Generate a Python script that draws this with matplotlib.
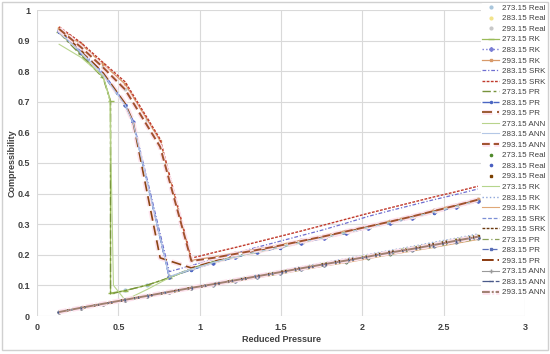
import matplotlib
matplotlib.use("Agg")
import matplotlib.pyplot as plt
import matplotlib.patheffects as pe
from matplotlib.patches import Rectangle

plt.rcParams['font.family'] = ['Liberation Sans', 'DejaVu Sans']

# ---------------- data ----------------
# reduced pressure grid
pr_grid = [0.136, 0.271, 0.407, 0.542, 0.678, 0.813, 0.949, 1.084, 1.220, 1.355,
           1.491, 1.626, 1.762, 1.897, 2.033, 2.168, 2.304, 2.439, 2.575, 2.710]
pr_liq = pr_grid[6:]  # 0.949 ... 2.710

# ---- group A: vapour branch collapsing onto liquid branch ----
# 273.15 K (saturation near Pr 0.452)
x273 = [0.136, 0.271, 0.407, 0.452, 0.452, 0.542, 0.678, 0.813] + pr_liq
# 283.15 K (saturation near Pr 0.59)
x283 = [0.136, 0.271, 0.407, 0.542, 0.590, 0.813] + pr_liq
# 293.15 K (saturation near Pr 0.757)
x293 = [0.136, 0.271, 0.407, 0.542, 0.757] + pr_liq
x293b = [0.136, 0.271, 0.407, 0.542, 0.590, 0.757] + pr_liq
x273ann = [0.136, 0.271, 0.407, 0.448, 0.470, 0.542, 0.678, 0.813] + pr_liq

xA_real_273 = [0.136, 0.271, 0.407, 0.542, 0.678, 0.813] + pr_liq
xA_real_283 = [0.136, 0.271, 0.407, 0.542, 0.813] + pr_liq
xA_real_293 = [0.136, 0.271, 0.407, 0.542, 0.678] + pr_liq
zA_real_273 = [0.930, 0.858, 0.784, 0.084, 0.102, 0.126, 0.156, 0.176, 0.194, 0.210, 0.226, 0.241,
               0.257, 0.273, 0.289, 0.306, 0.323, 0.341, 0.359, 0.378]
zA_real_283 = [0.932, 0.864, 0.792, 0.690, 0.130, 0.158, 0.178, 0.196, 0.212, 0.228, 0.243,
               0.259, 0.275, 0.291, 0.308, 0.325, 0.343, 0.361, 0.380]
zA_real_293 = [0.938, 0.880, 0.815, 0.742, 0.640, 0.182, 0.192, 0.205, 0.218, 0.232, 0.247,
               0.262, 0.278, 0.294, 0.310, 0.327, 0.345, 0.363, 0.382]

zA_rk_273 = [0.928, 0.855, 0.780, 0.704, 0.075, 0.083, 0.101, 0.125, 0.154, 0.175, 0.193, 0.209,
             0.224, 0.240, 0.255, 0.271, 0.288, 0.304, 0.321, 0.339, 0.357, 0.376]
zA_rk_283 = [0.930, 0.862, 0.790, 0.690, 0.635, 0.128, 0.152, 0.174, 0.193, 0.209, 0.224, 0.240,
             0.255, 0.271, 0.288, 0.304, 0.321, 0.339, 0.357, 0.376]
zA_rk_293 = [0.942, 0.888, 0.822, 0.758, 0.572, 0.182, 0.193, 0.206, 0.219, 0.233, 0.248,
             0.263, 0.279, 0.295, 0.311, 0.328, 0.346, 0.364, 0.383]
zA_srk_283 = [0.932, 0.866, 0.795, 0.695, 0.640, 0.145, 0.165, 0.185, 0.205, 0.225, 0.244, 0.263,
              0.282, 0.303, 0.325, 0.344, 0.362, 0.380, 0.397, 0.415]
zA_srk_293 = [0.945, 0.893, 0.828, 0.765, 0.578, 0.189, 0.207, 0.224, 0.242, 0.260, 0.278,
              0.297, 0.316, 0.335, 0.353, 0.371, 0.389, 0.406, 0.424]
zA_pr_273 = [0.926, 0.852, 0.778, 0.700, 0.072, 0.083, 0.101, 0.125, 0.156, 0.177, 0.195, 0.211,
             0.226, 0.242, 0.257, 0.273, 0.290, 0.306, 0.323, 0.341, 0.359, 0.378]
zA_pr_283 = [0.928, 0.860, 0.788, 0.688, 0.633, 0.127, 0.151, 0.173, 0.192, 0.208, 0.223, 0.239,
             0.254, 0.270, 0.287, 0.303, 0.320, 0.338, 0.356, 0.375]
zA_pr_293 = [0.935, 0.868, 0.794, 0.694, 0.636, 0.190, 0.157, 0.178, 0.196, 0.212, 0.227, 0.243,
             0.258, 0.274, 0.291, 0.307, 0.324, 0.342, 0.360, 0.379]
zA_ann_273 = [0.888, 0.845, 0.783, 0.706, 0.100, 0.052, 0.087, 0.125, 0.153, 0.175, 0.193, 0.209,
              0.224, 0.240, 0.256, 0.272, 0.289, 0.305, 0.322, 0.340, 0.358, 0.377]
zA_ann_283 = [0.929, 0.861, 0.789, 0.689, 0.634, 0.129, 0.153, 0.175, 0.194, 0.210, 0.225, 0.241,
              0.256, 0.272, 0.289, 0.305, 0.322, 0.340, 0.358, 0.377]
zA_ann_293 = [0.938, 0.878, 0.812, 0.740, 0.553, 0.180, 0.190, 0.203, 0.216, 0.230, 0.245,
              0.260, 0.276, 0.292, 0.308, 0.325, 0.343, 0.361, 0.380]

# ---- group B: low-compressibility branch ----
zB_real_273 = [0.013, 0.026, 0.039, 0.052, 0.064, 0.077, 0.090, 0.102, 0.115, 0.128,
               0.140, 0.153, 0.166, 0.178, 0.191, 0.204, 0.216, 0.229, 0.242, 0.255]
zB_real_283 = [0.013, 0.026, 0.040, 0.053, 0.065, 0.078, 0.091, 0.103, 0.116, 0.129,
               0.142, 0.155, 0.168, 0.180, 0.193, 0.206, 0.218, 0.231, 0.244, 0.257]
zB_real_293 = [0.013, 0.027, 0.040, 0.053, 0.066, 0.079, 0.092, 0.104, 0.117, 0.131,
               0.143, 0.156, 0.169, 0.182, 0.195, 0.208, 0.220, 0.234, 0.247, 0.260]
zB_rk_273 = [0.014, 0.027, 0.041, 0.054, 0.067, 0.080, 0.094, 0.106, 0.120, 0.133,
             0.146, 0.159, 0.173, 0.185, 0.199, 0.212, 0.225, 0.238, 0.252, 0.265]
zB_rk_283 = [0.014, 0.027, 0.041, 0.054, 0.068, 0.081, 0.095, 0.107, 0.121, 0.134,
             0.147, 0.161, 0.174, 0.187, 0.201, 0.214, 0.227, 0.241, 0.254, 0.268]
zB_rk_293 = [0.013, 0.025, 0.038, 0.051, 0.063, 0.075, 0.088, 0.100, 0.113, 0.125,
             0.137, 0.150, 0.163, 0.174, 0.187, 0.200, 0.212, 0.224, 0.237, 0.250]
zB_srk_283 = [0.013, 0.027, 0.040, 0.053, 0.065, 0.079, 0.092, 0.104, 0.117, 0.131,
              0.143, 0.156, 0.169, 0.182, 0.195, 0.208, 0.220, 0.234, 0.247, 0.261]
zB_srk_293 = [0.014, 0.027, 0.041, 0.054, 0.066, 0.080, 0.093, 0.105, 0.118, 0.132,
              0.145, 0.158, 0.171, 0.184, 0.197, 0.210, 0.223, 0.236, 0.250, 0.263]
zB_pr_273 = [0.013, 0.025, 0.038, 0.051, 0.063, 0.076, 0.089, 0.101, 0.114, 0.126,
             0.138, 0.151, 0.164, 0.176, 0.189, 0.202, 0.214, 0.226, 0.239, 0.252]
zB_pr_283 = [0.013, 0.026, 0.039, 0.052, 0.064, 0.077, 0.090, 0.102, 0.115, 0.128,
             0.141, 0.154, 0.167, 0.179, 0.192, 0.205, 0.217, 0.230, 0.243, 0.256]
zB_pr_293 = [0.013, 0.026, 0.039, 0.052, 0.065, 0.078, 0.091, 0.103, 0.116, 0.129,
             0.142, 0.155, 0.167, 0.180, 0.193, 0.206, 0.218, 0.231, 0.244, 0.258]
zB_ann_273 = [0.013, 0.026, 0.039, 0.052, 0.064, 0.077, 0.090, 0.102, 0.115, 0.128,
              0.140, 0.153, 0.166, 0.178, 0.191, 0.204, 0.216, 0.229, 0.242, 0.255]
zB_ann_283 = [0.013, 0.026, 0.039, 0.052, 0.065, 0.078, 0.090, 0.103, 0.116, 0.129,
              0.141, 0.154, 0.167, 0.179, 0.192, 0.205, 0.217, 0.230, 0.243, 0.256]
zB_ann_293 = [0.013, 0.027, 0.040, 0.053, 0.066, 0.079, 0.092, 0.104, 0.117, 0.130,
              0.143, 0.156, 0.169, 0.181, 0.194, 0.207, 0.219, 0.232, 0.246, 0.259]

x_ticks = [0, 0.5, 1, 1.5, 2, 2.5, 3]
x_ticklabels = ["0", "0.5", "1", "1.5", "2", "2.5", "3"]
y_ticks = [0, 0.1, 0.2, 0.3, 0.4, 0.5, 0.6, 0.7, 0.8, 0.9, 1.0]
y_ticklabels = ["0", "0.1", "0.2", "0.3", "0.4", "0.5", "0.6", "0.7", "0.8", "0.9", "1"]

# ---------------- figure ----------------
fig = plt.figure(figsize=(5.5, 3.54), dpi=100)
fig.patches.append(Rectangle((2 / 550, 4 / 354), 546 / 550, 348 / 354, transform=fig.transFigure,
                             fill=False, edgecolor='#d0d0d0', linewidth=1.0))
ax = fig.add_axes([37 / 550, 1 - 316 / 354, 488 / 550, 306 / 354])

pink = [pe.Stroke(linewidth=3.5, foreground='#fde3ee'), pe.Normal()]

# group A
ax.plot(xA_real_273, zA_real_273, ls='none', marker='o', ms=2, color='#a9c6dc', label='273.15 Real')
ax.plot(xA_real_283, zA_real_283, ls='none', marker='o', ms=2, color='#f2e38a', label='283.15 Real')
ax.plot(xA_real_293, zA_real_293, ls='none', marker='o', ms=2, color='#c8c8c8', label='293.15 Real')
ax.plot(x273, zA_rk_273, ls='-', lw=0.9, color='#9bbb59', marker='_', ms=4, label='273.15 RK')
ax.plot(x283, zA_rk_283, ls=':', lw=1.0, color='#7b7fd6', marker='D', ms=2, label='283.15 RK')
ax.plot(x293, zA_rk_293, ls='-', lw=0.9, color='#d89a6a', marker='s', ms=2, label='293.15 RK')
ax.plot(x283, zA_srk_283, ls=(0, (3, 1.5, 1, 1.5)), lw=0.9, color='#6f6fd0', label='283.15 SRK')
ax.plot(x293, zA_srk_293, ls=(0, (2, 1)), lw=1.0, color='#c0392b', label='293.15 SRK')
ax.plot(x273, zA_pr_273, ls=(0, (6, 2, 2, 2)), lw=1.0, color='#77933c', label='273.15 PR')
ax.plot(x283, zA_pr_283, ls=(0, (6, 2)), lw=1.0, color='#4a66c2', marker='.', ms=3, label='283.15 PR')
ax.plot(x293b, zA_pr_293, ls=(0, (6, 3)), lw=1.2, color='#8b4513', label='293.15 PR',
        path_effects=pink)
ax.plot(x273ann, zA_ann_273, ls='-', lw=0.8, color='#b8d48c', label='273.15 ANN')
ax.plot(x283, zA_ann_283, ls='-', lw=0.8, color='#b4c8e6', label='283.15 ANN')
ax.plot(x293, zA_ann_293, ls=(0, (4, 2)), lw=1.4, color='#a0522d', label='293.15 ANN',
        path_effects=pink)

# group B
ax.plot(pr_grid, zB_real_273, ls='none', marker='o', ms=1.6, color='#4f8a2b', label='273.15 Real')
ax.plot(pr_grid, zB_real_283, ls='none', marker='o', ms=1.6, color='#4a5fc1', label='283.15 Real')
ax.plot(pr_grid, zB_real_293, ls='none', marker='s', ms=1.6, color='#7b3f00', label='293.15 Real')
ax.plot(pr_grid, zB_rk_273, ls='-', lw=0.8, color='#b5d58c', label='273.15 RK')
ax.plot(pr_grid, zB_rk_283, ls=':', lw=1.0, color='#8da5d9', label='283.15 RK')
ax.plot(pr_grid, zB_rk_293, ls='-', lw=0.8, color='#e0a878', label='293.15 RK')
ax.plot(pr_grid, zB_srk_283, ls=(0, (3, 1.5)), lw=0.9, color='#7b8fd6', label='283.15 SRK')
ax.plot(pr_grid, zB_srk_293, ls=(0, (2, 1)), lw=1.0, color='#6b3a10', label='293.15 SRK')
ax.plot(pr_grid, zB_pr_273, ls=(0, (5, 2, 1, 2)), lw=0.9, color='#8aa05a', label='273.15 PR')
ax.plot(pr_grid, zB_pr_283, ls=(0, (5, 2)), lw=0.9, color='#5a6fb8', marker='s', ms=1.8,
        label='283.15 PR')
ax.plot(pr_grid, zB_pr_293, ls=(0, (6, 2)), lw=1.4, color='#8b3a0f', label='293.15 PR')
ax.plot(pr_grid, zB_ann_273, ls='-', lw=0.8, color='#9a9a9a', marker='+', ms=3, label='273.15 ANN')
ax.plot(pr_grid, zB_ann_283, ls='-.', lw=0.9, color='#4a5a8a', marker='_', ms=3, label='283.15 ANN')
ax.plot(pr_grid, zB_ann_293, ls=(0, (4, 1, 1, 1)), lw=1.4, color='#a08070', label='293.15 ANN',
        path_effects=pink)

ax.set_xlim(0, 3)
ax.set_ylim(0, 1)
ax.set_xticks(x_ticks)
ax.set_xticklabels(x_ticklabels)
ax.set_yticks(y_ticks)
ax.set_yticklabels(y_ticklabels)
for s in ax.spines.values():
    s.set_visible(False)
ax.grid(True, color='#d9d9d9', lw=0.8)
ax.set_axisbelow(True)
ax.tick_params(length=0, labelsize=6.5, colors='#404040', pad=5)
for lab in ax.get_xticklabels() + ax.get_yticklabels():
    lab.set_fontweight('bold')

ax.set_xlabel('Reduced Pressure', fontsize=6.5, fontweight='bold', color='#404040')
ax.set_ylabel('Compressibility', fontsize=6.5, fontweight='bold', color='#404040')
ax.xaxis.set_label_coords(0.5, -0.062)
ax.yaxis.set_label_coords(-0.042, 0.5)

leg = fig.legend(loc='upper right', bbox_to_anchor=(547 / 550, 1 - 3 / 354), fontsize=5.8,
                 frameon=True, framealpha=1, edgecolor='none', facecolor='white',
                 handlelength=2.1, handletextpad=0.37, labelspacing=0.36, borderpad=0.15,
                 borderaxespad=0, markerscale=1.0)
for t in leg.get_texts():
    t.set_color('#404040')

fig.savefig('out.png', dpi=100)
